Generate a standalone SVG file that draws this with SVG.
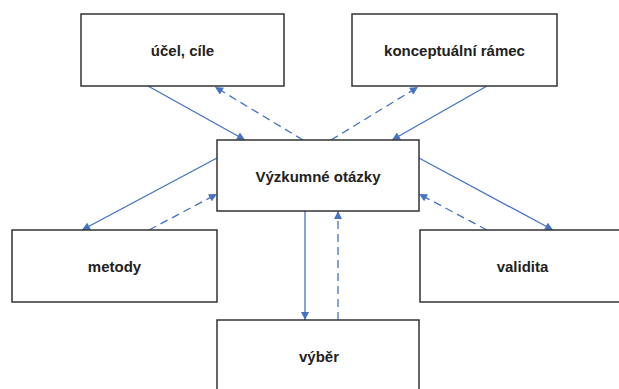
<svg xmlns="http://www.w3.org/2000/svg" width="619" height="389" viewBox="0 0 619 389">
  <style>
    .box { fill: #ffffff; stroke: #333333; stroke-width: 1.5; }
    .label { font-family: "Liberation Sans", Arial, sans-serif; font-size: 15px; font-weight: bold; fill: #222222; text-anchor: middle; }
    .link { stroke: #4472c4; stroke-width: 1.3; fill: none; marker-end: url(#arrow); }
    .dashed { stroke-dasharray: 8 5; }
  </style>
  <defs>
    <marker id="arrow" viewBox="0 0 10 10" refX="10" refY="5" markerWidth="9" markerHeight="8" markerUnits="userSpaceOnUse" orient="auto">
      <path d="M0,0 L10,5 L0,10 Z" fill="#4472c4"/>
    </marker>
  </defs>
  <rect width="619" height="389" fill="#ffffff"/>

  <g id="connectors">
    <!-- účel, cíle <-> Výzkumné otázky -->
    <line class="link" x1="148" y1="86" x2="245" y2="140"/>
    <line class="link dashed" x1="303" y1="140" x2="215" y2="87"/>
    <!-- konceptuální rámec <-> Výzkumné otázky -->
    <line class="link dashed" x1="331" y1="140" x2="418" y2="87"/>
    <line class="link" x1="487" y1="86" x2="392" y2="140"/>
    <!-- Výzkumné otázky <-> metody -->
    <line class="link" x1="217" y1="158" x2="82" y2="230"/>
    <line class="link dashed" x1="149" y1="230" x2="217" y2="194"/>
    <!-- Výzkumné otázky <-> validita -->
    <line class="link" x1="419" y1="158" x2="553" y2="230"/>
    <line class="link dashed" x1="487" y1="230" x2="419" y2="194"/>
    <!-- Výzkumné otázky <-> výběr -->
    <line class="link" x1="305" y1="211" x2="305" y2="320"/>
    <line class="link dashed" x1="338" y1="320" x2="338" y2="211"/>
  </g>

  <g id="ucel-cile">
    <rect class="box" x="81" y="14" width="203" height="72"/>
    <text class="label" x="182.5" y="55.5">účel, cíle</text>
  </g>
  <g id="konceptualni-ramec">
    <rect class="box" x="352" y="14" width="205" height="72"/>
    <text class="label" x="454.5" y="55.5">konceptuální rámec</text>
  </g>
  <g id="vyzkumne-otazky">
    <rect class="box" x="217" y="140" width="202" height="71"/>
    <text class="label" x="318" y="181.5">Výzkumné otázky</text>
  </g>
  <g id="metody">
    <rect class="box" x="12" y="230" width="205" height="72"/>
    <text class="label" x="114.5" y="271.5">metody</text>
  </g>
  <g id="validita">
    <rect class="box" x="420" y="230" width="205" height="72"/>
    <text class="label" x="522.5" y="271.5">validita</text>
  </g>
  <g id="vyber">
    <rect class="box" x="217" y="320" width="202" height="72"/>
    <text class="label" x="319" y="362">výběr</text>
  </g>
</svg>
